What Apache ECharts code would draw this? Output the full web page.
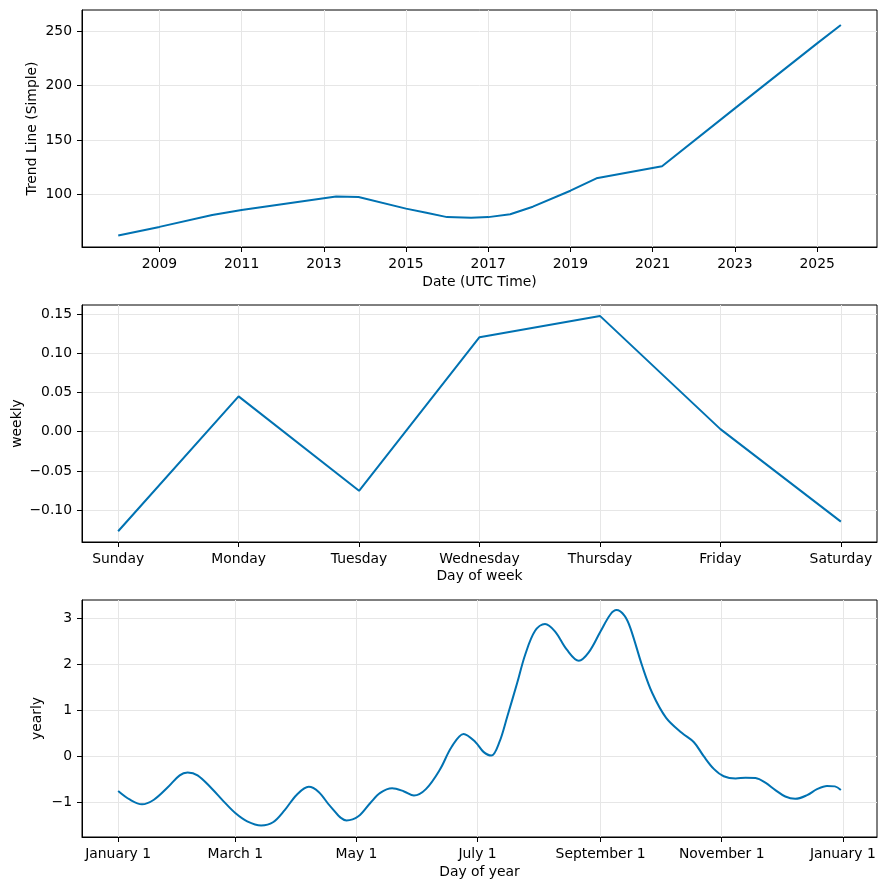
<!DOCTYPE html>
<html>
<head>
<meta charset="utf-8">
<script src="https://cdn.jsdelivr.net/npm/echarts@6/dist/echarts.min.js"></script>
<style>
  html, body { margin: 0; padding: 0; background: #fff; }
  #chart { width: 886px; height: 890px; }
</style>
</head>
<body>
<div id="chart"></div>
<script>
// ---------- Data ----------
// Trend (top panel)
const trendDates = ['2008-01-01','2009-01-01','2010-04-15','2011-01-01','2013-04-20','2013-11-05','2015-01-01','2015-07-01','2016-01-01','2016-08-01','2017-01-01','2017-07-15','2018-02-01','2019-01-01','2019-08-20','2021-03-25','2023-01-01','2025-01-01','2025-07-31'];
const trendValues = [62, 70, 81, 85.5, 98, 97.5, 86.8, 83, 79, 78.5, 79, 81.6, 88.6, 103.3, 114.7, 125.8, 179.1, 238.9, 255.8];
// Uncertainty band at the end of the trend
const bandDates = ['2024-09-01','2025-01-01','2025-04-01','2025-07-31'];
const bandLower = [229.0, 238.1, 244.9, 253.3];
const bandUpper = [229.0, 239.7, 247.9, 258.3];
const trendYearTicks = ['2009-01-01','2011-01-01','2013-01-01','2015-01-01','2017-01-01','2019-01-01','2021-01-01','2023-01-01','2025-01-01'];
const trendYTicks = [100, 150, 200, 250];

// Weekly (middle panel)
const weekDays = ['Sunday','Monday','Tuesday','Wednesday','Thursday','Friday','Saturday'];
const weeklyValues = [-0.127, 0.0451, -0.0754, 0.1206, 0.1478, 0.0033, -0.1147];
const weeklyYTicks = [-0.10, -0.05, 0.00, 0.05, 0.10, 0.15];

// Yearly (bottom panel): day of year, value
const yearlyDays = [0,6,12,18,25,31,35,40,47,53,59,65,72,78,84,90,96,101,107,115,121,127,132,138,144,149,155,162,168,174,180,184,188,192,196,201,205,210,215,220,226,232,237,243,248,251,255,258,264,269,276,284,290,295,300,305,311,316,321,326,331,336,341,347,352,357,361,364];
const yearlyValues = [-0.76,-0.95,-1.05,-0.95,-0.68,-0.42,-0.36,-0.42,-0.70,-0.98,-1.24,-1.42,-1.51,-1.44,-1.17,-0.84,-0.67,-0.78,-1.10,-1.40,-1.31,-1.02,-0.80,-0.70,-0.77,-0.86,-0.72,-0.30,0.20,0.48,0.30,0.09,0.01,0.30,0.86,1.59,2.20,2.72,2.87,2.71,2.31,2.07,2.25,2.71,3.08,3.17,3.05,2.78,1.95,1.37,0.83,0.50,0.30,-0.01,-0.28,-0.44,-0.49,-0.47,-0.48,-0.58,-0.74,-0.88,-0.93,-0.85,-0.72,-0.65,-0.66,-0.74];
const yearlyTickDays = [0, 59, 120, 181, 243, 304, 365];
const yearlyTickLabels = ['January 1','March 1','May 1','July 1','September 1','November 1','January 1'];
const yearlyYTicks = [-1, 0, 1, 2, 3];

// ---------- Helpers ----------
function utc(s) { const p = s.split('-').map(Number); return Date.UTC(p[0], p[1]-1, p[2]); }
const minusFmt = (s) => s.replace('-', '\u2212');

const FONT = 'DejaVu Sans';
const FS = 13.9;
const LINE_COLOR = '#0072B2';
const GRID_COLOR = '#e6e6e6';

const gridBase = { left: 82, width: 795, height: 237, show: true, borderColor: '#000', borderWidth: 1,
  containLabel: false, outerBoundsMode: 'none' };

function tickCfg(vals) {
  return { show: true, inside: false, length: 5, lineStyle: { color: '#000', width: 1 }, customValues: vals };
}
function labelCfg(vals, fmt) {
  return { show: true, color: '#000', fontFamily: FONT, fontSize: FS, margin: 10, customValues: vals, formatter: fmt };
}
function axisCommon(extra) {
  return Object.assign({
    nameLocation: 'middle',
    nameMoveOverlap: false,
    nameTextStyle: { color: '#000', fontFamily: FONT, fontSize: FS },
    axisLine: { show: true, onZero: false, lineStyle: { color: '#000', width: 1 } },
    splitLine: { show: true, lineStyle: { color: GRID_COLOR, width: 1 } }
  }, extra);
}

const trendData = trendDates.map((d, i) => [utc(d), trendValues[i]]);
const bandLowerData = bandDates.map((d, i) => [utc(d), bandLower[i]]);
const bandDiffData = bandDates.map((d, i) => [utc(d), bandUpper[i] - bandLower[i]]);
const weeklyData = weeklyValues.map((v, i) => [i, v]);
const yearlyData = yearlyDays.map((d, i) => [d, yearlyValues[i]]);
const trendXTicks = trendYearTicks.map(utc);
const weekIdx = weekDays.map((_, i) => i);

const chart = echarts.init(document.getElementById('chart'), null, { renderer: 'canvas' });

const option = {
  animation: false,
  backgroundColor: '#fff',
  textStyle: { fontFamily: FONT },
  grid: [
    Object.assign({ top: 10 }, gridBase),
    Object.assign({ top: 305 }, gridBase),
    Object.assign({ top: 600 }, gridBase)
  ],
  xAxis: [
    axisCommon({
      type: 'value', gridIndex: 0, name: 'Date (UTC Time)', nameGap: 28,
      min: utc('2007-02-13'), max: utc('2026-06-17'),
      axisTick: tickCfg(trendXTicks),
      axisLabel: labelCfg(trendXTicks, (v) => String(new Date(v).getUTCFullYear()))
    }),
    axisCommon({
      type: 'value', gridIndex: 1, name: 'Day of week', nameGap: 27,
      min: -0.3, max: 6.3,
      axisTick: tickCfg(weekIdx),
      axisLabel: labelCfg(weekIdx, (v) => weekDays[Math.round(v)])
    }),
    axisCommon({
      type: 'value', gridIndex: 2, name: 'Day of year', nameGap: 28,
      min: -18.2, max: 382.2,
      axisTick: tickCfg(yearlyTickDays),
      axisLabel: labelCfg(yearlyTickDays, (v) => yearlyTickLabels[yearlyTickDays.indexOf(Math.round(v))])
    })
  ],
  yAxis: [
    axisCommon({
      type: 'value', gridIndex: 0, name: 'Trend Line (Simple)', nameGap: 43, nameRotate: 90,
      min: 51.5, max: 269.6,
      axisTick: tickCfg(trendYTicks),
      axisLabel: labelCfg(trendYTicks, (v) => String(Math.round(v)))
    }),
    axisCommon({
      type: 'value', gridIndex: 1, name: 'weekly', nameGap: 57.5, nameRotate: 90,
      min: -0.1407, max: 0.1617,
      axisTick: tickCfg(weeklyYTicks),
      axisLabel: labelCfg(weeklyYTicks, (v) => minusFmt(Number(v).toFixed(2)))
    }),
    axisCommon({
      type: 'value', gridIndex: 2, name: 'yearly', nameGap: 37.5, nameRotate: 90,
      min: -1.76, max: 3.39,
      axisTick: tickCfg(yearlyYTicks),
      axisLabel: labelCfg(yearlyYTicks, (v) => minusFmt(String(Math.round(v))))
    })
  ],
  series: [
    { type: 'line', xAxisIndex: 0, yAxisIndex: 0, data: bandLowerData, stack: 'band', symbol: 'none',
      lineStyle: { opacity: 0 }, areaStyle: { opacity: 0 }, silent: true },
    { type: 'line', xAxisIndex: 0, yAxisIndex: 0, data: bandDiffData, stack: 'band', symbol: 'none',
      lineStyle: { opacity: 0 }, areaStyle: { color: LINE_COLOR, opacity: 0.2 }, silent: true },
    { type: 'line', xAxisIndex: 0, yAxisIndex: 0, data: trendData, showSymbol: false, symbol: 'none',
      lineStyle: { color: LINE_COLOR, width: 2 }, itemStyle: { color: LINE_COLOR } },
    { type: 'line', xAxisIndex: 1, yAxisIndex: 1, data: weeklyData, showSymbol: false, symbol: 'none',
      lineStyle: { color: LINE_COLOR, width: 2 }, itemStyle: { color: LINE_COLOR } },
    { type: 'line', xAxisIndex: 2, yAxisIndex: 2, data: yearlyData, showSymbol: false, symbol: 'none', smooth: 0.35,
      lineStyle: { color: LINE_COLOR, width: 2 }, itemStyle: { color: LINE_COLOR } }
  ]
};
chart.setOption(option);
</script>
</body>
</html>
